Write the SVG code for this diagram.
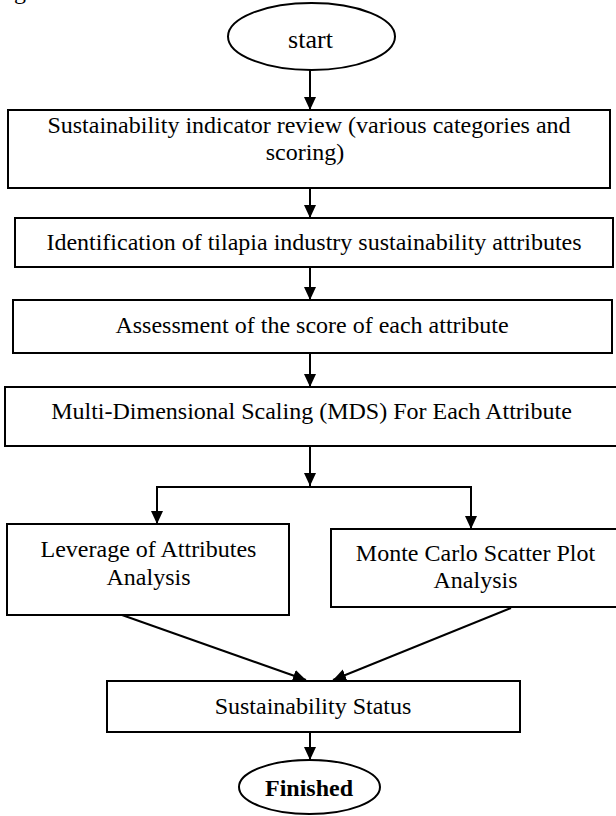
<svg xmlns="http://www.w3.org/2000/svg" width="616" height="816" viewBox="0 0 616 816">
  <style>
    .box { fill: #ffffff; stroke: #000000; stroke-width: 2; }
    .t { font-family: "Liberation Serif", "Times New Roman", serif; font-size: 24px; fill: #000000; text-anchor: middle; }
    .b { font-weight: bold; }
    .c { fill: none; stroke: #000000; stroke-width: 2; }
  </style>
  <defs>
    <marker id="ah" markerUnits="userSpaceOnUse" markerWidth="14" markerHeight="14" viewBox="0 0 14 14" refX="13" refY="7" orient="auto">
      <path d="M0,1 L13,7 L0,13 Z" fill="#000000"/>
    </marker>
  </defs>
  <rect x="0" y="0" width="616" height="816" fill="#ffffff"/>
  <text class="t" x="20" y="-1">g</text>

  <g id="connectors">
    <line class="c" x1="310" y1="70" x2="310" y2="110" marker-end="url(#ah)"/>
    <line class="c" x1="310" y1="188" x2="310" y2="218" marker-end="url(#ah)"/>
    <line class="c" x1="310" y1="267" x2="310" y2="300" marker-end="url(#ah)"/>
    <line class="c" x1="310" y1="353" x2="310" y2="387" marker-end="url(#ah)"/>
    <line class="c" x1="310" y1="446" x2="310" y2="486" marker-end="url(#ah)"/>
    <polyline class="c" stroke-width="2.5" points="157,524 157,487 471,487 471,529" />
    <line class="c" x1="157" y1="500" x2="157" y2="524" marker-end="url(#ah)"/>
    <line class="c" x1="471" y1="500" x2="471" y2="529" marker-end="url(#ah)"/>
    <line class="c" x1="122" y1="615" x2="306" y2="680" marker-end="url(#ah)"/>
    <line class="c" x1="511" y1="608" x2="333" y2="680" marker-end="url(#ah)"/>
    <line class="c" x1="310" y1="732" x2="310" y2="760" marker-end="url(#ah)"/>
  </g>

  <g id="start">
    <ellipse class="box" cx="311.5" cy="36.5" rx="83.5" ry="33.5"/>
    <text class="t" x="310.5" y="48" style="font-size:26px">start</text>
  </g>
  <g id="review">
    <rect class="box" x="8" y="110" width="602" height="78"/>
    <text class="t" x="309" y="133">Sustainability indicator review (various categories and</text>
    <text class="t" x="305" y="160">scoring)</text>
  </g>
  <g id="identification">
    <rect class="box" x="15" y="218" width="598" height="49"/>
    <text class="t" x="314" y="250">Identification of tilapia industry sustainability attributes</text>
  </g>
  <g id="assessment">
    <rect class="box" x="13" y="300" width="599" height="53"/>
    <text class="t" x="312" y="333">Assessment of the score of each attribute</text>
  </g>
  <g id="mds">
    <rect class="box" x="5" y="387" width="620" height="59"/>
    <text class="t" x="311.5" y="419">Multi-Dimensional Scaling (MDS) For Each Attribute</text>
  </g>
  <g id="leverage">
    <rect class="box" x="7" y="524" width="282" height="91"/>
    <text class="t" x="148.5" y="557">Leverage of Attributes</text>
    <text class="t" x="148.5" y="585">Analysis</text>
  </g>
  <g id="montecarlo">
    <rect class="box" x="331" y="529" width="290" height="78"/>
    <text class="t" x="475.5" y="561">Monte Carlo Scatter Plot</text>
    <text class="t" x="475.5" y="588">Analysis</text>
  </g>
  <g id="status">
    <rect class="box" x="107" y="681" width="413" height="51"/>
    <text class="t" x="313" y="714">Sustainability Status</text>
  </g>
  <g id="finished">
    <ellipse class="box" cx="309.5" cy="787" rx="70.5" ry="27"/>
    <text class="t b" x="309" y="796">Finished</text>
  </g>
</svg>
